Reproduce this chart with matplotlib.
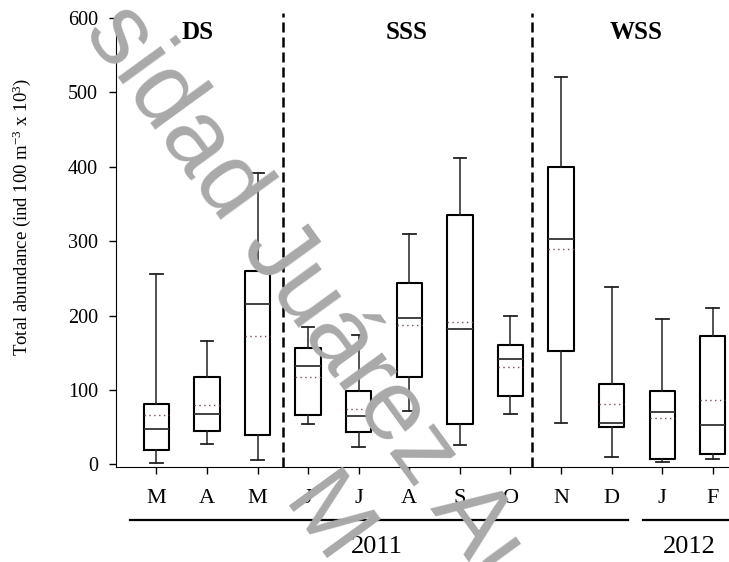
import numpy as np
import matplotlib
matplotlib.use("Agg")
import matplotlib.pyplot as plt
import matplotlib.transforms as mtransforms

plt.rcParams['font.family'] = ['Liberation Serif', 'DejaVu Serif']
plt.rcParams['mathtext.fontset'] = 'custom'
plt.rcParams['mathtext.rm'] = 'Liberation Serif'
plt.rcParams['mathtext.it'] = 'Liberation Serif:italic'

# ── data ──
months = ["M", "A", "M", "J", "J", "A", "S", "O", "N", "D", "J", "F"]
whis_lo = [2, 28, 6, 55, 23, 72, 26, 68, 56, 10, 3, 7]
q1 = [20, 45, 39, 67, 43, 117, 55, 92, 152, 50, 7, 14]
median = [48, 68, 216, 132, 65, 197, 182, 141, 303, 56, 70, 53]
mean = [66, 80, 172, 118, 74, 187, 192, 131, 290, 81, 62, 86]
q3 = [81, 118, 260, 156, 99, 244, 335, 161, 399, 108, 98, 172]
whis_hi = [256, 166, 392, 185, 174, 309, 412, 200, 521, 238, 195, 210]

seasons = ["DS", "SSS", "WSS"]
season_x = [1.82, 5.94, 10.49]
season_breaks = [3.5, 8.43]

years = ["2011", "2012"]
year_spans = [(0.47, 10.33), (10.62, 12.4)]
year_text_x = [5.35, 11.54]

stats = []
for i in range(len(months)):
    stats.append(dict(med=median[i], q1=q1[i], q3=q3[i], whislo=whis_lo[i],
                      whishi=whis_hi[i], mean=mean[i], fliers=[]))

fig = plt.figure(figsize=(7.29, 5.62), dpi=100)
ax = fig.add_axes([0.159, 0.1696, 0.841, 0.8067])
ax.set_facecolor("none")

# watermark (behind the chart), only the visible part
fig.text(0.143, 0.972, "sidad Juárez Autónoma", fontsize=72,
         family="Liberation Sans", color="#a9a9a9", rotation=-54,
         rotation_mode="anchor", ha="left", va="center", zorder=0)
fig.text(0.445, 0.07, "M", fontsize=70, family="Liberation Sans",
         color="#a9a9a9", rotation=-54, rotation_mode="anchor",
         ha="center", va="center", zorder=0)

pos = np.arange(1, len(months) + 1)
ax.bxp(stats, positions=pos, widths=0.5, showmeans=True, meanline=True,
       showfliers=False,
       boxprops=dict(color="black", linewidth=1.5),
       whiskerprops=dict(color="#222222", linewidth=1.1),
       capprops=dict(color="#222222", linewidth=1.3),
       medianprops=dict(color="#333333", linewidth=1.3),
       meanprops=dict(color="#7a4a5a", linewidth=1.0, linestyle=(0, (1, 2.5))))

for xb in season_breaks:
    ax.axvline(xb, color="black", linestyle=(0, (4, 2)), linewidth=1.8)

for name, xs in zip(seasons, season_x):
    ax.text(xs, 580, name, fontsize=18, fontweight="bold", ha="center", va="center")

ax.set_xlim(0.2, 12.32)
ax.set_ylim(-3, 606)
ax.set_yticks([0, 100, 200, 300, 400, 500, 600])
ax.set_xticks(pos)
ax.set_xticklabels(months)
ax.tick_params(axis="y", labelsize=14.5, length=5, width=1, pad=8)
ax.tick_params(axis="x", labelsize=16, length=5, width=1, pad=11)
for s in ["top", "right"]:
    ax.spines[s].set_visible(False)
ax.spines["left"].set_bounds(-3, 600)
ax.set_ylabel("Total abundance (ind 100 m$^{-3}$ x 10$^{3}$)", fontsize=13.5)
ax.yaxis.set_label_coords(-0.135, 0.55)

trans = mtransforms.blended_transform_factory(ax.transData, ax.transAxes)
for (x0, x1), lbl, tx in zip(year_spans, years, year_text_x):
    ax.plot([x0, x1], [-0.118, -0.118], color="black", linewidth=1.6,
            transform=trans, clip_on=False)
    ax.text(tx, -0.178, lbl, fontsize=19, ha="center", va="center", transform=trans)

plt.savefig("out.png", dpi=100)
plt.close()
